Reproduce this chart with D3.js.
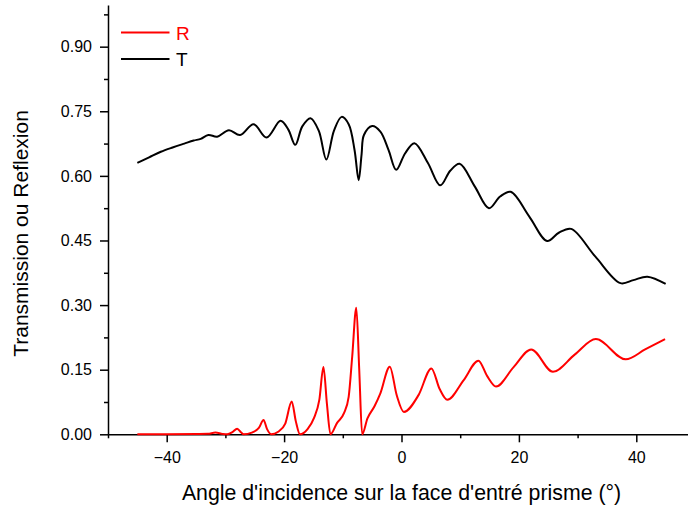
<!DOCTYPE html>
<html><head><meta charset="utf-8">
<script src="https://cdn.jsdelivr.net/npm/d3@7/dist/d3.min.js"></script>
<style>
body{margin:0;background:#fff}
svg{display:block}
text{font-family:"Liberation Sans",Arial,sans-serif;fill:#000}
</style>
</head><body>
<svg id="chart" width="688" height="506"></svg>
<script>
// Transmission (T)
const angleT = [-45,-43,-41,-39,-37,-35.4,-34.2,-32.9,-31.4,-29.4,-27.5,-25.2,-23.0,-20.6,-19.3,-18.1,-16.9,-15.5,-14.1,-12.8,-11.5,-10.2,-9.0,-8.0,-7.3,-6.8,-6.4,-5.0,-3.6,-2.2,-0.9,0.6,2.2,4.5,6.6,8.3,9.9,12.5,14.9,16.8,18.6,21.8,24.8,26.8,28.9,33,37.3,39.5,41.9,45];
const valueT = [0.630,0.643,0.656,0.666,0.675,0.682,0.686,0.695,0.691,0.706,0.695,0.720,0.689,0.728,0.708,0.672,0.715,0.734,0.705,0.638,0.705,0.737,0.720,0.660,0.590,0.650,0.695,0.716,0.703,0.660,0.614,0.652,0.676,0.630,0.578,0.612,0.628,0.575,0.525,0.552,0.563,0.505,0.449,0.468,0.477,0.413,0.351,0.358,0.366,0.349];
// Reflexion (R)
const angleR = [-45,-40,-35,-33,-31.7,-30.5,-29.7,-28.8,-28,-27.3,-26.9,-25.5,-24.3,-23.5,-22.9,-22.2,-21,-19.8,-18.7,-18.0,-17.3,-16,-14.9,-14.0,-13.3,-12.7,-12.1,-11.0,-9.8,-9.0,-8.4,-7.7,-7.2,-6.7,-5.8,-4.6,-3.6,-2.0,-0.8,0.4,2.9,5.1,6.5,7.8,10.6,13.1,14.6,16.1,19.1,22.1,25.8,29.5,33.1,38.2,41.5,44.9];
const valueR = [0,0,0.0005,0.001,0.004,0.001,0,0.005,0.013,0.004,0,0.004,0.015,0.033,0.012,0,0.006,0.025,0.076,0.030,0,0.012,0.038,0.080,0.156,0.070,0,0.026,0.049,0.087,0.180,0.294,0.150,0,0.037,0.065,0.095,0.157,0.090,0.052,0.091,0.153,0.105,0.080,0.126,0.171,0.135,0.111,0.156,0.197,0.145,0.185,0.221,0.174,0.197,0.221];

const xMajor = [-40,-20,0,20,40];
const xMinor = [-50,-30,-10,10,30,50];
const yMajor = [0,0.15,0.30,0.45,0.60,0.75,0.90];
const yMinor = [0.075,0.225,0.375,0.525,0.675,0.825,0.975];
const seriesNames = ["R","T"];
const seriesColors = ["#ff0000","#000000"];
const xTitle = "Angle d'incidence sur la face d'entré prisme (°)";
const yTitle = "Transmission ou Reflexion";

const svg = d3.select("#chart");
const x0 = 434.3;
const x = d3.scaleLinear().domain([-50,50]).range([108,695]);
const y = d3.scaleLinear().domain([0,0.997]).range([434.3,434.3-0.997*430.7]);

// minor ticks
svg.append("g").attr("transform",`translate(0,${x0})`)
  .call(d3.axisBottom(x).tickValues(xMinor).tickSize(4).tickSizeOuter(0).tickFormat(""))
  .call(g=>g.select(".domain").remove());
svg.append("g").attr("transform",`translate(108,0)`)
  .call(d3.axisLeft(y).tickValues(yMinor).tickSize(4).tickSizeOuter(0).tickFormat(""))
  .call(g=>g.select(".domain").remove());

svg.append("g").attr("transform",`translate(0,${x0})`)
  .call(d3.axisBottom(x).tickValues(xMajor).tickSize(8).tickSizeOuter(0).tickPadding(9).tickFormat(d3.format("d")));
svg.append("g").attr("transform",`translate(108,0)`)
  .call(d3.axisLeft(y).tickValues(yMajor).tickSize(8).tickSizeOuter(0).tickPadding(8).tickFormat(d3.format(".2f")));

svg.selectAll(".tick line, .domain").attr("stroke","#000").attr("stroke-width",1.5);
svg.selectAll(".tick text").attr("font-size",16).attr("font-family","'Liberation Sans',Arial,sans-serif").attr("fill","#000");

const lineT = d3.line().x(d=>x(d[0])).y(d=>y(d[1])).curve(d3.curveCatmullRom.alpha(0.5));
const lineR = d3.line().x(d=>x(d[0])).y(d=>y(d[1])).curve(d3.curveMonotoneX);
const dataT = angleT.map((a,i)=>[a,valueT[i]]);
const dataR = angleR.map((a,i)=>[a,valueR[i]]);
svg.append("path").datum(dataT).attr("d",lineT).attr("fill","none").attr("stroke",seriesColors[1]).attr("stroke-width",2);
svg.append("path").datum(dataR).attr("d",lineR).attr("fill","none").attr("stroke",seriesColors[0]).attr("stroke-width",2);

// titles
svg.append("text").attr("x",x(0)).attr("y",500).attr("text-anchor","middle").attr("font-size",21.3).text(xTitle);
svg.append("text").attr("transform","translate(27.5,233.5) rotate(-90)").attr("text-anchor","middle").attr("font-size",21).text(yTitle);

// legend
const leg = svg.append("g");
seriesNames.forEach((n,i)=>{
  const ly = 32.5 + i*26.5;
  leg.append("line").attr("x1",121).attr("x2",169.5).attr("y1",ly).attr("y2",ly).attr("stroke",seriesColors[i]).attr("stroke-width",2);
  leg.append("text").attr("x",176).attr("y",ly+7.3).attr("font-size",19).style("fill",seriesColors[i]).text(n);
});
</script>
</body></html>
